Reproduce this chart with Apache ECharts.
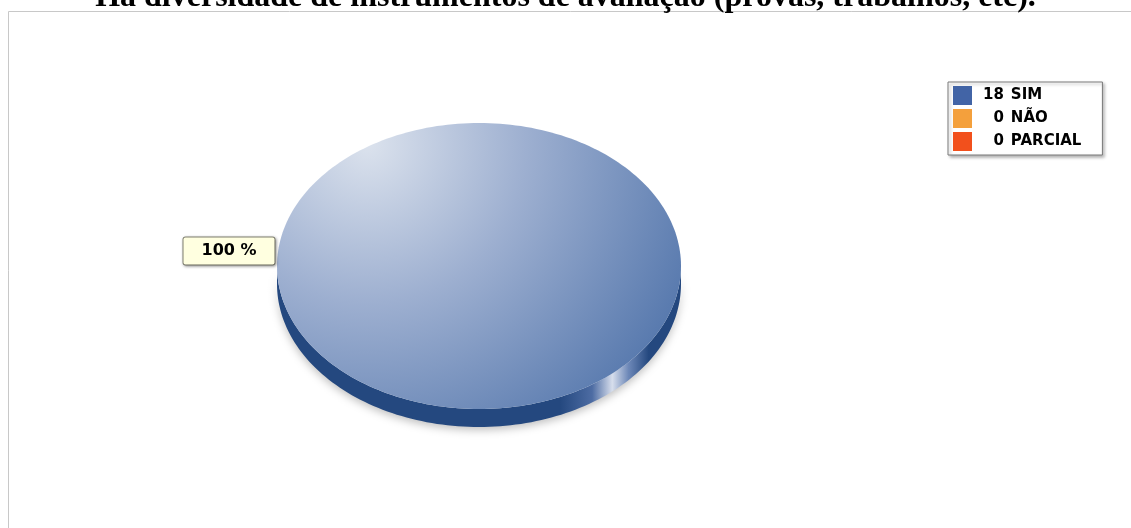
<!DOCTYPE html>
<html>
<head>
<meta charset="utf-8">
<script src="https://cdn.jsdelivr.net/npm/echarts@6/dist/echarts.min.js"></script>
<style>html,body{margin:0;padding:0;background:#fff}#c{width:1131px;height:528px}</style>
</head>
<body>
<div id="c"></div>
<script>
const titleText = 'Há diversidade de instrumentos de avaliação (provas, trabalhos, etc).';
const categories = ['SIM', 'NÃO', 'PARCIAL'];
const values = [18, 0, 0];
const colors = ['#4264a6', '#f4a03c', '#f2501c'];

const total = values.reduce((a, b) => a + b, 0);
const PIE = { cx: 479, cy: 266, rx: 202, ry: 143, depth: 18 };
const SANS = '"DejaVu Sans", Arial, sans-serif';

function ellPts(cx, cy, a0, a1, n) {
  const pts = [];
  for (let i = 0; i <= n; i++) {
    const a = a0 + (a1 - a0) * i / n;
    pts.push([cx + PIE.rx * Math.cos(a), cy + PIE.ry * Math.sin(a)]);
  }
  return pts;
}

function makeRender(idx) {
  return function (params, api) {
    const v = api.value(0);
    if (!v || !total) return null;
    let before = 0;
    for (let i = 0; i < idx; i++) before += values[i];
    const a0 = before / total * Math.PI * 2;
    const a1 = (before + v) / total * Math.PI * 2;
    const full = (a1 - a0) >= Math.PI * 2 - 1e-9;
    const children = [];
    const segs = [[0, Math.PI], [2 * Math.PI, 3 * Math.PI]];
    segs.forEach(([s0, s1]) => {
      const s = Math.max(a0, s0), e = Math.min(a1, s1);
      if (e > s) {
        const top = ellPts(PIE.cx, PIE.cy, s, e, 120);
        const bot = ellPts(PIE.cx, PIE.cy + PIE.depth, e, s, 120);
        children.push({
          type: 'polygon',
          shape: { points: top.concat(bot) },
          style: {
            fill: {
              type: 'linear', x: PIE.cx - PIE.rx, y: 0, x2: PIE.cx + PIE.rx, y2: 0, global: true,
              colorStops: [
                { offset: 0, color: '#24487f' }, { offset: 0.7, color: '#24487f' },
                { offset: 0.78, color: '#4d6ca3' }, { offset: 0.83, color: '#d7deec' },
                { offset: 0.87, color: '#6d88b8' }, { offset: 0.92, color: '#24487f' },
                { offset: 1, color: '#24487f' }
              ]
            },
            shadowBlur: 8, shadowColor: 'rgba(0,0,0,0.25)', shadowOffsetY: 3
          }
        });
      }
    });
    let topPts = ellPts(PIE.cx, PIE.cy, a0, a1, 240);
    if (!full) topPts = [[PIE.cx, PIE.cy]].concat(topPts);
    children.push({
      type: 'polygon',
      shape: { points: topPts },
      style: {
        fill: {
          type: 'radial', x: PIE.cx - PIE.rx * 0.55, y: PIE.cy - PIE.ry * 0.85, r: PIE.rx * 1.75, global: true,
          colorStops: [
            { offset: 0, color: '#dbe2ed' },
            { offset: 0.45, color: '#9dafd0' },
            { offset: 1, color: '#5678ad' }
          ]
        }
      }
    });
    const mid = (a0 + a1) / 2;
    const pct = Math.round(v / total * 100) + ' %';
    const lx = PIE.cx + Math.cos(mid) * (PIE.rx + 48);
    const ly = PIE.cy + Math.sin(mid) * PIE.ry - 15;
    children.push({
      type: 'text',
      z2: 10,
      style: {
        text: pct, x: lx, y: ly, align: 'center', verticalAlign: 'middle',
        font: 'bold 16px ' + SANS, fill: '#000',
        backgroundColor: '#ffffe0', borderColor: '#8a8a7a', borderWidth: 1, borderRadius: 2,
        padding: [6, 18, 5, 18],
        shadowBlur: 3, shadowColor: 'rgba(0,0,0,0.35)', shadowOffsetX: 1, shadowOffsetY: 1
      }
    });
    return { type: 'group', children };
  };
}

function padNum(v) {
  let s = String(v);
  while (s.length < 2) s = '\u2007' + s;
  return s;
}

const chart = echarts.init(document.getElementById('c'), null, { renderer: 'canvas' });
chart.setOption({
  animation: false,
  backgroundColor: '#fff',
  title: {
    text: titleText, left: 'center', top: -23,
    textStyle: { fontFamily: '"Liberation Serif", "Times New Roman", serif', fontWeight: 'bold', fontSize: 32, color: '#000' }
  },
  graphic: [{
    type: 'rect', z: -1, silent: true,
    shape: { x: 8.5, y: 11.5, width: 1300, height: 700 },
    style: { fill: '#fff', stroke: '#c8c8c8', lineWidth: 1 }
  }],
  legend: {
    orient: 'vertical', left: 948, top: 82,
    data: categories,
    icon: 'rect', itemWidth: 19, itemHeight: 19, itemGap: 4,
    padding: [4, 21, 4, 5],
    backgroundColor: '#fff', borderColor: '#7a7a7a', borderWidth: 1,
    shadowBlur: 3, shadowColor: 'rgba(0,0,0,0.3)', shadowOffsetX: 2, shadowOffsetY: 2,
    selectedMode: false,
    formatter: name => '{n|' + padNum(values[categories.indexOf(name)]) + '}{t|' + name + '}',
    textStyle: {
      rich: {
        n: { padding: [0, 0, 0, 6], fontFamily: SANS, fontWeight: 'bold', fontSize: 15, color: '#000' },
        t: { padding: [0, 0, 0, 7], fontFamily: SANS, fontWeight: 'bold', fontSize: 15, color: '#000' }
      }
    }
  },
  series: categories.map((name, i) => ({
    type: 'custom', name, coordinateSystem: 'none',
    itemStyle: { color: colors[i] },
    data: [[values[i]]],
    renderItem: makeRender(i)
  }))
});
</script>
</body>
</html>
